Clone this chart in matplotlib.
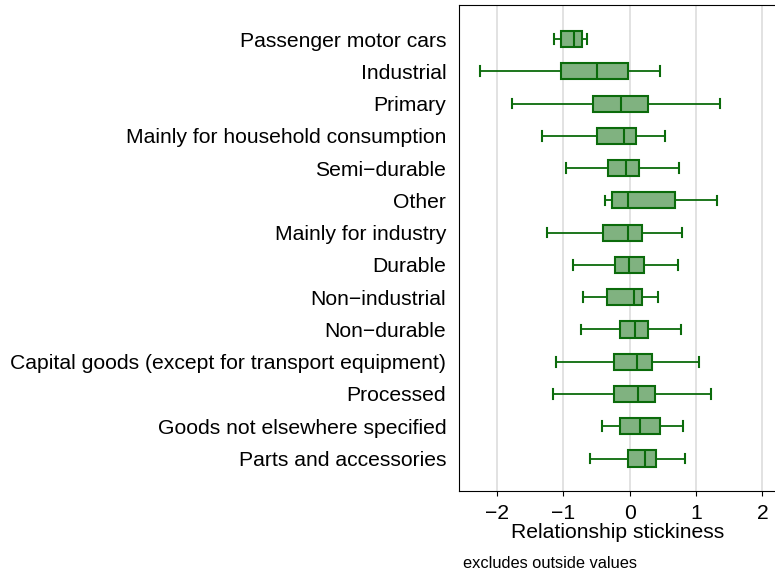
import matplotlib
matplotlib.use("Agg")
import matplotlib.pyplot as plt
plt.rcParams['font.family'] = ['Liberation Sans', 'DejaVu Sans']

categories = ["Passenger motor cars", "Industrial", "Primary", "Mainly for household consumption",
              "Semi\u2212durable", "Other", "Mainly for industry", "Durable", "Non\u2212industrial",
              "Non\u2212durable", "Capital goods (except for transport equipment)", "Processed",
              "Goods not elsewhere specified", "Parts and accessories"]
whislo = [-1.14, -2.25, -1.78, -1.32, -0.96, -0.37, -1.24, -0.86, -0.70, -0.73, -1.11, -1.15, -0.42, -0.60]
q1 =     [-1.04, -1.04, -0.56, -0.49, -0.32, -0.26, -0.41, -0.22, -0.35, -0.14, -0.24, -0.24, -0.15, -0.03]
med =    [-0.84, -0.50, -0.13, -0.08, -0.05, -0.03, -0.02, -0.01, 0.06, 0.08, 0.11, 0.13, 0.16, 0.23]
q3 =     [-0.72, -0.02, 0.27, 0.09, 0.14, 0.68, 0.18, 0.22, 0.18, 0.28, 0.34, 0.38, 0.46, 0.40]
whishi = [-0.64, 0.45, 1.36, 0.53, 0.74, 1.32, 0.78, 0.73, 0.43, 0.77, 1.04, 1.23, 0.80, 0.84]

fig = plt.figure(figsize=(7.75, 5.74), dpi=100)
ax = fig.add_axes([0.592, 0.145, 0.409, 0.846])
stats = [dict(whislo=a, q1=b, med=c, q3=d, whishi=e, label=l)
         for a, b, c, d, e, l in zip(whislo, q1, med, q3, whishi, categories)]
edge = "#0b6b0b"
pos = list(range(1, len(categories) + 1))
ax.bxp(stats, positions=pos, vert=False, widths=0.5, showfliers=False, patch_artist=True,
       boxprops=dict(facecolor="#80b280", edgecolor=edge, linewidth=1.5),
       medianprops=dict(color=edge, linewidth=1.5),
       whiskerprops=dict(color=edge, linewidth=1.3),
       capprops=dict(color=edge, linewidth=1.5), capwidths=0.3)
ax.set_ylim(15.0, -0.05)
ax.set_xlim(-2.575, 2.2)
ax.set_xticks([-2, -1, 0, 1, 2])
ax.set_xticklabels(["\u22122", "\u22121", "0", "1", "2"])
ax.xaxis.grid(True, color="#dddddd", linewidth=1.2)
ax.set_axisbelow(True)
ax.tick_params(axis="y", length=0, labelsize=15.2, pad=9)
ax.tick_params(axis="x", labelsize=15.2, pad=6)
ax.set_xlabel("Relationship stickiness", fontsize=15.2, labelpad=0)
for s in ax.spines.values():
    s.set_color("black")
fig.text(463 / 775, 1 - 564 / 574, "excludes outside values", fontsize=11.8, va="center")
fig.savefig("out.png", dpi=100)
